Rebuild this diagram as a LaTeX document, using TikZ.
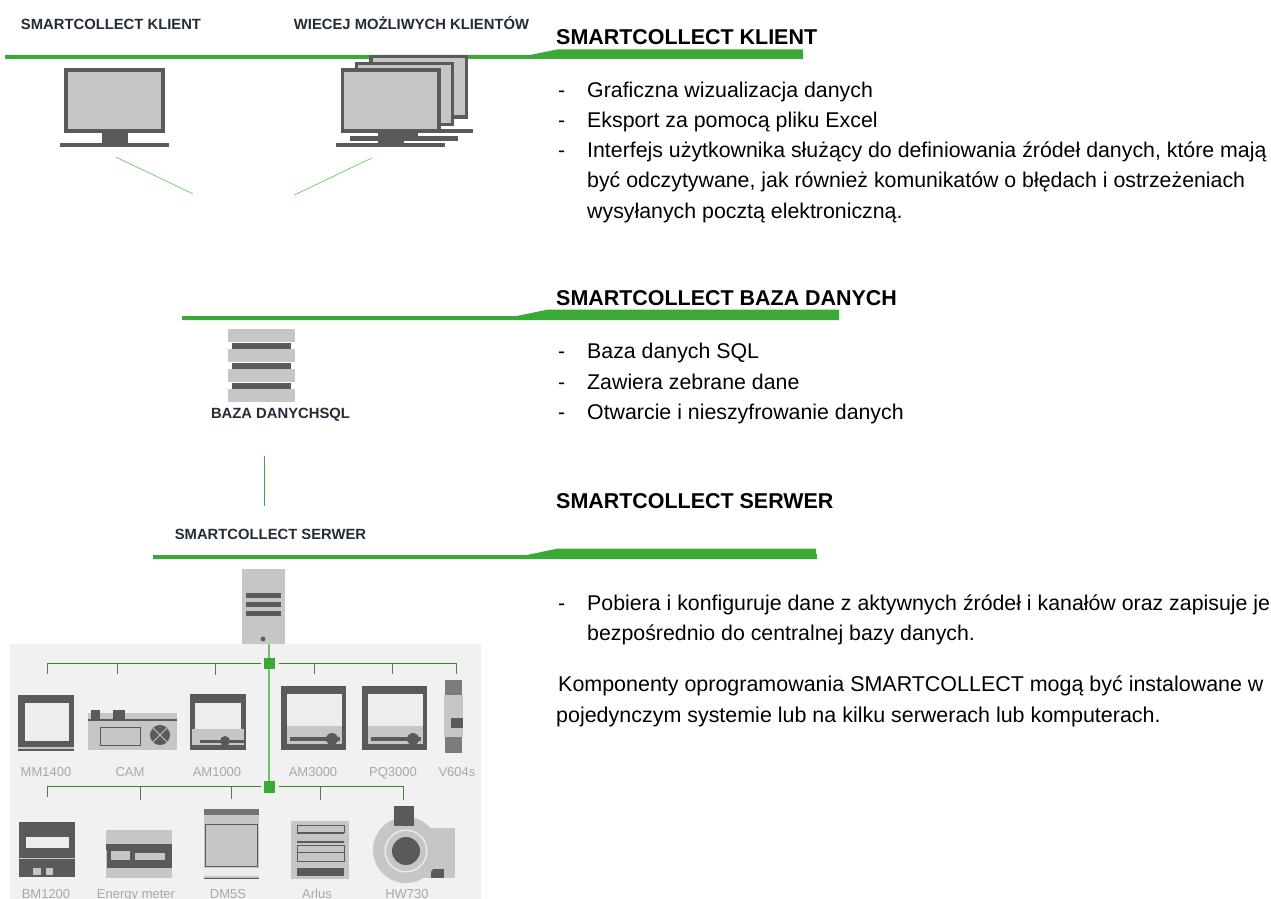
\documentclass[tikz,border=0pt]{standalone}
\usepackage{fontspec}
\setmainfont{Liberation Sans}
\definecolor{grn}{HTML}{3BA935}
\definecolor{lnk}{HTML}{6CC864}
\definecolor{dk}{HTML}{5A5A58}
\definecolor{lt}{HTML}{C6C6C6}
\definecolor{panel}{HTML}{F1F1F1}
\definecolor{lbl}{HTML}{222D38}
\definecolor{dev}{HTML}{A8A8A8}
\definecolor{scr}{HTML}{EDEDED}
\tikzset{
 x=1pt,y=-1pt,
 smalllabel/.style={font=\fontsize{14.8}{17}\selectfont\bfseries,text=lbl,inner sep=0,anchor=base},
 heading/.style={font=\fontsize{21.45}{25}\selectfont\bfseries,text=black,inner sep=0,anchor=base west},
 body/.style={font=\fontsize{21.33}{25}\selectfont,text=black,inner sep=0,anchor=base west},
 bodywide/.style={font=\fontsize{21.45}{25}\selectfont,text=black,inner sep=0,anchor=base west},
 devlabel/.style={font=\fontsize{13}{15}\selectfont,text=dev,inner sep=0,anchor=base},
 thinlink/.style={draw=lnk,line width=0.7pt},
 busline/.style={draw=grn!80!black,line width=0.9pt},
 busdrop/.style={draw=grn!50!dk,line width=0.9pt},
}
% left, top, right, bottom of the screen's outer edge
\newcommand{\screenbox}[5][3.5]{%
 \fill[dk] (#2,#3) rectangle (#4,#5);
 \fill[lt] (#2+#1,#3+#1) rectangle (#4-#1,#5-#1);}
\begin{document}
\begin{tikzpicture}
\useasboundingbox (0,0) rectangle (1271,899);
\fill[white] (0,0) rectangle (1271,899);
% green rules
\fill[grn] (5,55) -- (530,55) -- (557,49.5) -- (803,49.5) -- (803,59) -- (5,59) -- cycle;
\fill[grn] (182,316) -- (517,316) -- (548,309.5) -- (839,309.5) -- (839,320) -- (182,320) -- cycle;
\fill[grn] (153,555) -- (527,555) -- (558,548.5) -- (816,548.5) -- (816,554) -- (817,554) -- (817,559) -- (153,559) -- cycle;
% client labels
\node[smalllabel] (lk) at (111,29.5) {SMARTCOLLECT KLIENT};
\node[smalllabel] (lw) at (411.5,29.5) {WIECEJ MOŻLIWYCH KLIENTÓW};
% single monitor
\fill[dk] (102,133) rectangle (128,143);
\fill[dk] (60,143) rectangle (169,147);
\screenbox[4]{64}{68}{165}{133}
% stacked monitors
\fill[dk] (364,129) rectangle (473,133);
\screenbox{369}{55}{468}{118.5}
\fill[dk] (350,136) rectangle (458,140.5);
\fill[dk] (403,132) rectangle (418,136);
\screenbox{354.5}{62}{454}{126}
\fill[dk] (378,133) rectangle (404,143);
\fill[dk] (336,143) rectangle (445,147);
\screenbox{340.5}{68}{440.5}{132.5}
% links
\coordinate (a1) at (115.7,157);\coordinate (a2) at (192.7,193.7);
\coordinate (b1) at (371.7,158);\coordinate (b2) at (294.3,195);
\draw[thinlink] (a1)--(a2);
\draw[thinlink] (b1)--(b2);
% database
\fill[lt] (228,329) rectangle (295,342);
\fill[lt] (228,349) rectangle (295,362);
\fill[lt] (228,369) rectangle (295,382);
\fill[lt] (228,389) rectangle (295,402);
\fill[dk] (232,342.5) rectangle (291,348.5);
\fill[dk] (232,362.5) rectangle (291,368.5);
\fill[dk] (232,382.5) rectangle (291,388.5);
\node[smalllabel] (ldb) at (280.5,418.5) {BAZA DANYCHSQL};
\coordinate (l1) at (264.5,456);\coordinate (l2) at (264.5,506);
\draw[grn,line width=0.8pt] (l1)--(l2);
\node[smalllabel] (ls) at (270.5,539) {SMARTCOLLECT SERWER};
% panel
\fill[panel] (10,644) rectangle (481,899);
% server
\fill[lt] (242,569) rectangle (285,644);
\fill[dk] (246,593) rectangle (280.5,597.5);
\fill[dk] (246,602) rectangle (280.5,606.5);
\fill[dk] (246,611) rectangle (280.5,615.5);
\fill[dk] (263,639) circle (2.4);
% bus
\coordinate (t1) at (47,663);\coordinate (t2) at (117,663);\coordinate (t3) at (215,663);
\coordinate (t4) at (314,663);\coordinate (t5) at (392,663);\coordinate (t6) at (456,663);
\coordinate (u1) at (47,786);\coordinate (u2) at (140,786);\coordinate (u3) at (231,786);
\coordinate (u4) at (320,786);\coordinate (u5) at (403,786);
\draw[draw=grn!70!panel,line width=1.3pt] (269,644)--(269,786);
\draw[busline] (47,663)--(456,663);
\draw[busline] (47,786)--(403,786);
\foreach \p/\h in {t1/11,t2/11,t3/12,t4/11,t5/11,t6/11,u1/11,u2/14,u3/13,u4/14,u5/14}
 \draw[busdrop] (\p)--++(0,\h);
\fill[panel] (261,661) rectangle (279,665);
\fill[panel] (261,784) rectangle (279,788);
\fill[grn] (264,658) rectangle (275,669);
\fill[grn] (264,781) rectangle (275,793);
% MM1400
\fill[dk] (18,695) rectangle (74,751);
\fill[scr] (25,703) rectangle (69,741);
\fill[lt] (18,747) rectangle (74,749);
% CAM
\fill[lt] (88,713) rectangle (177,750);
\fill[dk] (91,710) rectangle (100,720);
\fill[dk] (113,710) rectangle (125,720);
\fill[dk] (88,719) rectangle (177,721);
\draw[dk,line width=0.8pt] (100,727) rectangle (140,745);
\fill[dk] (160,735) circle (10);
\draw[lt,line width=1pt] (153,728)--(167,742) (153,742)--(167,728);
% AM1000
\fill[dk] (190,694) rectangle (246,750);
\fill[scr] (195,703) rectangle (241,729);
\fill[lt] (192,729) rectangle (244,745);
\fill[dk] (200,740) rectangle (244,743);
\fill[dk] (225,741) circle (5);
% AM3000
\fill[dk] (281,686) rectangle (346,750);
\fill[scr] (287,694) rectangle (342,726);
\fill[lt] (287,726) rectangle (342,744);
\fill[dk] (290,737) rectangle (340,741);
\fill[dk] (332,739) circle (6);
% PQ3000
\fill[dk] (362,686) rectangle (427,750);
\fill[scr] (368,694) rectangle (423,726);
\fill[lt] (368,726) rectangle (423,744);
\fill[dk] (371,737) rectangle (421,741);
\fill[dk] (413,739) circle (6);
% V604s
\fill[dk!80] (445,680) rectangle (462,695);
\fill[lt] (444,695) rectangle (463,737);
\fill[dk] (451,718) rectangle (463,728);
\fill[dk!80] (445,737) rectangle (462,753);
% BM1200
\fill[dk] (19,822) rectangle (75,877);
\fill[scr] (26,837) rectangle (69,848);
\fill[lt] (33,868) rectangle (41,875);
\fill[lt] (46,868) rectangle (53,875);
\fill[lt] (19,858) rectangle (75,859);
% Energy meter
\fill[lt] (106,830) rectangle (172,878);
\fill[dk] (106,844) rectangle (172,850);
\fill[dk] (107,850) rectangle (172,868);
\fill[lt] (111,851) rectangle (130,860);
\fill[lt] (135,853) rectangle (165,860);
% DM5S
\fill[dk!85] (204,809) rectangle (259,815);
\fill[lt] (204,815) rectangle (259,878);
\draw[dk,line width=1pt] (205,824) rectangle (257,866);
\fill[scr] (204,868) rectangle (259,876);
\fill[dk] (204,878) rectangle (259,879);
% Arlus
\fill[lt] (291,821) rectangle (349,879);
\draw[dk,line width=1pt] (297,825) rectangle (344,832);
\fill[dk] (297,832) rectangle (344,834);
\fill[dk] (297,841) rectangle (344,843);
\draw[dk,line width=1pt] (297,845) rectangle (344,861);
\fill[dk] (297,852) rectangle (344,853);
\fill[dk] (297,868) rectangle (344,876);
% HW730
\fill[lt] (420,828) rectangle (455,878);
\fill[dk] (431,869) rectangle (444,878);
\fill[lt] (406,850) circle (33);
\fill[scr] (406,851) circle (21.5);
\fill[lt] (406,851) circle (20);
\fill[dk] (406,851) circle (14);
\fill[dk] (394,806) rectangle (414,826);
% device labels
\node[devlabel] (d1) at (46,776) {MM1400};
\node[devlabel] (d2) at (130,776) {CAM};
\node[devlabel] (d3) at (217,776) {AM1000};
\node[devlabel] (d4) at (313,776) {AM3000};
\node[devlabel] (d5) at (393,776) {PQ3000};
\node[devlabel] (d6) at (457,776) {V604s};
\node[devlabel] (e1) at (46,898) {BM1200};
\node[devlabel] (e2) at (136,898) {Energy meter};
\node[devlabel] (e3) at (228,898) {DM5S};
\node[devlabel] (e4) at (317,898) {Arlus};
\node[devlabel] (e5) at (407,898) {HW730};
% right column
\node[heading] (h1) at (556,45) {SMARTCOLLECT KLIENT};
\node[body] at (558,97) {-};
\node[body] at (587,97) {Graficzna wizualizacja danych};
\node[body] at (558,127) {-};
\node[body] at (587,127) {Eksport za pomocą pliku Excel};
\node[body] at (558,157) {-};
\node[body] at (587,157) {Interfejs użytkownika służący do definiowania źródeł danych, które mają};
\node[body] at (587,187) {być odczytywane, jak również komunikatów o błędach i ostrzeżeniach};
\node[body] at (587,218) {wysyłanych pocztą elektroniczną.};
\node[heading] (h2) at (556,305) {SMARTCOLLECT BAZA DANYCH};
\node[body] at (558,358) {-};
\node[body] at (587,358) {Baza danych SQL};
\node[body] at (558,389) {-};
\node[body] at (587,389) {Zawiera zebrane dane};
\node[body] at (558,419) {-};
\node[body] at (587,419) {Otwarcie i nieszyfrowanie danych};
\node[heading] (h3) at (556,508) {SMARTCOLLECT SERWER};
\node[body] at (558,610) {-};
\node[body] at (587,610) {Pobiera i konfiguruje dane z aktywnych źródeł i kanałów oraz zapisuje je};
\node[body] at (587,640) {bezpośrednio do centralnej bazy danych.};
\node[bodywide] at (558,691) {Komponenty oprogramowania SMARTCOLLECT mogą być instalowane w};
\node[bodywide] at (556,722) {pojedynczym systemie lub na kilku serwerach lub komputerach.};
\end{tikzpicture}
\end{document}
